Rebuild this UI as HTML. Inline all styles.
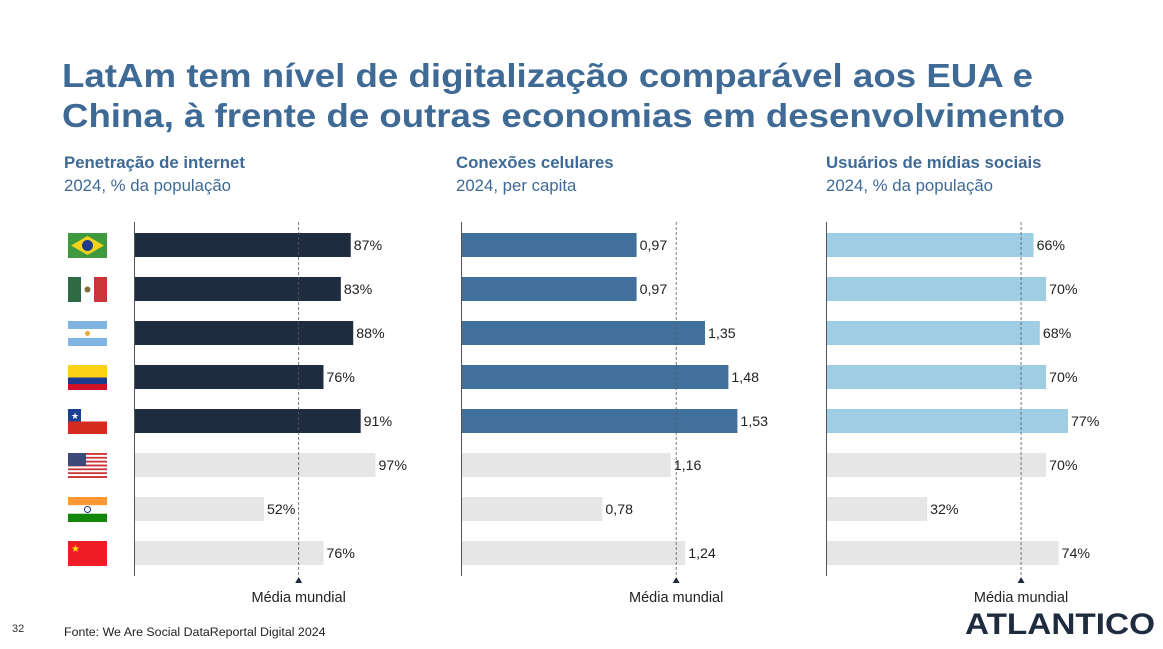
<!DOCTYPE html>
<html><head><meta charset="utf-8"><style>
body{margin:0;background:#fff;font-family:"Liberation Sans",Arial,sans-serif;}
svg{display:block}
</style></head><body>
<svg id="s" width="1163" height="649" xmlns="http://www.w3.org/2000/svg" font-family="Liberation Sans, Arial, sans-serif">
<text x="62" y="87" font-size="33" font-weight="bold" fill="#3f6a96" textLength="971" lengthAdjust="spacingAndGlyphs">LatAm tem nível de digitalização comparável aos EUA e</text>
<text x="62" y="127" font-size="33" font-weight="bold" fill="#3f6a96" textLength="1003" lengthAdjust="spacingAndGlyphs">China, à frente de outras economias em desenvolvimento</text>
<g id="flags"></g>
<text x="12" y="632" font-size="11" fill="#333">32</text>
<text x="64" y="636" font-size="12.4" fill="#222">Fonte: We Are Social DataReportal Digital 2024</text>
<text x="965" y="634" font-size="30" font-weight="bold" fill="#1f2b3e" textLength="190" lengthAdjust="spacingAndGlyphs">ATLANTICO</text>
</svg>
<script>
const countries=["Brasil","México","Argentina","Colômbia","Chile","EUA","Índia","China"];
const internetValues=[87,83,88,76,91,97,52,76];
const internetLabels=["87%","83%","88%","76%","91%","97%","52%","76%"];
const mobileValues=[0.97,0.97,1.35,1.48,1.53,1.16,0.78,1.24];
const mobileLabels=["0,97","0,97","1,35","1,48","1,53","1,16","0,78","1,24"];
const socialValues=[66,70,68,70,77,70,32,74];
const socialLabels=["66%","70%","68%","70%","77%","70%","32%","74%"];
const worldAvg=[66,1.19,62];
const NS="http://www.w3.org/2000/svg";
const svg=document.getElementById('s');
function mk(tag,attrs,parent){const e=document.createElementNS(NS,tag);for(const k in attrs)e.setAttribute(k,attrs[k]);(parent||svg).appendChild(e);return e;}
const panels=[
 {x0:134,scale:2.48,vals:internetValues,labels:internetLabels,color:"#1f2b3e",avg:worldAvg[0],title:"Penetração de internet",sub:"2024, % da população",tx:64,key:"internet"},
 {x0:461,scale:180,vals:mobileValues,labels:mobileLabels,color:"#41709c",avg:worldAvg[1],title:"Conexões celulares",sub:"2024, per capita",tx:456,key:"mobile"},
 {x0:826,scale:3.13,vals:socialValues,labels:socialLabels,color:"#9ecde4",avg:worldAvg[2],title:"Usuários de mídias sociais",sub:"2024, % da população",tx:826,key:"social"}
];
function yc(i){return 245+i*44;}
panels.forEach(p=>{
  const g=mk('g',{});
  
  
  const t=mk('text',{x:p.tx,y:168,'font-size':16.8,'font-weight':'bold',fill:'#3f6a96'},g);t.textContent=p.title;
  
  
  const st=mk('text',{x:p.tx,y:191,'font-size':16.8,fill:'#3f6a96'},g);st.textContent=p.sub;
  
  
  p.vals.forEach((v,i)=>{
    const w=v*p.scale;
    const r=mk('rect',{x:p.x0+1,y:yc(i)-12,width:w,height:24,fill:i<5?p.color:'#e6e6e6'},g);
    
    
    const l=mk('text',{x:p.x0+w+4,y:yc(i)+5,'font-size':14.2,fill:'#222'},g);l.textContent=p.labels[i];
    
    
  });
  const ax=mk('line',{x1:p.x0+0.5,x2:p.x0+0.5,y1:222,y2:576,stroke:'#555','stroke-width':1},g);
  
  
  const ax2=p.x0+1+p.avg*p.scale;
  const ml=mk('line',{x1:ax2,x2:ax2,y1:222,y2:576,stroke:'#556','stroke-width':0.8,'stroke-dasharray':'3,2'},g);
  
  
  const tri=mk('path',{d:`M${ax2-3.5},583 L${ax2+3.5},583 L${ax2},577 Z`,fill:'#1f2b3e'},g);
  
  
  const ml2=mk('text',{x:ax2,y:602,'font-size':14.5,fill:'#222','text-anchor':'middle'},g);ml2.textContent="Média mundial";
  
  
});
const fg=document.getElementById('flags');
function flag(i,draw){const g=mk('g',{transform:`translate(68,${yc(i)-12})`},fg);draw(g);}
flag(0,g=>{mk('rect',{width:39,height:25,fill:'#3f9a3f'},g);mk('path',{d:'M19.5,3 L36,12.5 L19.5,22 L3,12.5Z',fill:'#f3d21b'},g);mk('circle',{cx:19.5,cy:12.5,r:5.5,fill:'#1f3d87'},g);});
flag(1,g=>{mk('rect',{width:13,height:25,fill:'#2e6b45'},g);mk('rect',{x:13,width:13,height:25,fill:'#fff'},g);mk('rect',{x:26,width:13,height:25,fill:'#c9353a'},g);mk('circle',{cx:19.5,cy:12.5,r:3,fill:'#8a6a3a'},g);});
flag(2,g=>{mk('rect',{width:39,height:25,fill:'#fff'},g);mk('rect',{width:39,height:8,fill:'#7fb4e3'},g);mk('rect',{y:17,width:39,height:8,fill:'#7fb4e3'},g);mk('circle',{cx:19.5,cy:12.5,r:2.5,fill:'#e8a83a'},g);});
flag(3,g=>{mk('rect',{width:39,height:12.5,fill:'#fcd116'},g);mk('rect',{y:12.5,width:39,height:6.5,fill:'#1d3a8f'},g);mk('rect',{y:19,width:39,height:6,fill:'#ce1126'},g);});
flag(4,g=>{mk('rect',{width:39,height:25,fill:'#fff'},g);mk('rect',{y:12.5,width:39,height:12.5,fill:'#d52b1e'},g);mk('rect',{width:13,height:12.5,fill:'#1b3f94'},g);mk('text',{x:3,y:10,'font-size':9,fill:'#fff'},g).textContent='★';});
flag(5,g=>{for(let k=0;k<13;k++)mk('rect',{y:k*25/13,width:39,height:25/13,fill:k%2?'#fff':'#c9353a'},g);mk('rect',{width:18,height:13,fill:'#3c4a7a'},g);});
flag(6,g=>{mk('rect',{width:39,height:8.3,fill:'#ff9933'},g);mk('rect',{y:8.3,width:39,height:8.4,fill:'#fff'},g);mk('rect',{y:16.7,width:39,height:8.3,fill:'#138808'},g);mk('circle',{cx:19.5,cy:12.5,r:3,fill:'none',stroke:'#1a3a8a','stroke-width':1},g);});
flag(7,g=>{mk('rect',{width:39,height:25,fill:'#ee1c25'},g);mk('text',{x:3,y:11,'font-size':10,fill:'#ffde00'},g).textContent='★';});
</script>
</body></html>
